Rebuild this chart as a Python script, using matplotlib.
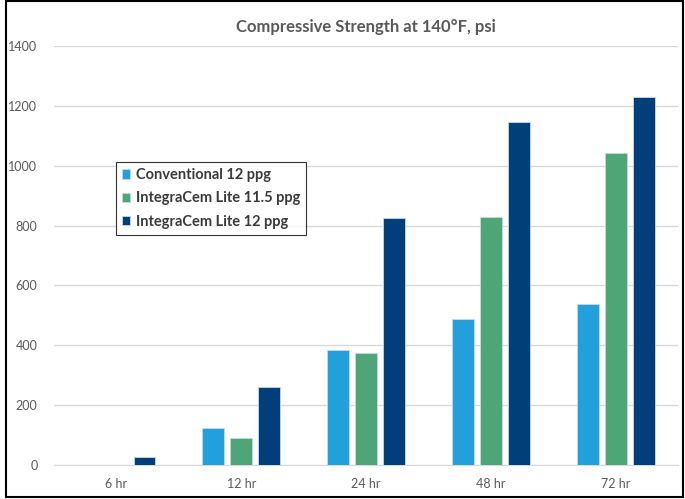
import numpy as np
import matplotlib.pyplot as plt
from matplotlib.patches import Rectangle

plt.rcParams['font.family'] = ['Lato', 'DejaVu Sans']

times = ["6 hr", "12 hr", "24 hr", "48 hr", "72 hr"]
conventional = [0, 124, 384, 488, 538]
lite_115 = [0, 90, 374, 829, 1042]
lite_12 = [27, 261, 825, 1146, 1230]

series = [
    ("Conventional 12 ppg", conventional, "#21a0db"),
    ("IntegraCem Lite 11.5 ppg", lite_115, "#4ea576"),
    ("IntegraCem Lite 12 ppg", lite_12, "#003f7a"),
]

fig = plt.figure(figsize=(6.85, 4.99), dpi=100)
ax = fig.add_axes([0.079, 0.068, 0.911, 0.84])

x = np.arange(len(times))
w = 0.175
step = 0.224
for i, (name, vals, col) in enumerate(series):
    vals = np.array(vals, dtype=float)
    # zero values are simply not drawn
    mask = vals > 0
    ax.bar(x[mask] + (i - 1) * step, vals[mask], width=w, color=col,
           edgecolor="#c8d8e8", linewidth=0.6, label=name, zorder=3)

ax.set_xlim(-0.5, len(times) - 0.5)
ax.set_ylim(0, 1400)
ax.set_yticks(range(0, 1401, 200))
ax.set_xticks(x)
ax.set_xticklabels(times)
ax.grid(axis="y", color="#d9d9d9", linewidth=1, zorder=0)
for s in ["top", "right", "left"]:
    ax.spines[s].set_visible(False)
ax.spines["bottom"].set_color("#d9d9d9")
ax.tick_params(axis="both", length=0, labelsize=9, colors="#595959")
ax.tick_params(axis="x", pad=9)
ax.tick_params(axis="y", pad=12)

ax.set_title("Compressive Strength at 140°F, psi", fontsize=12, fontweight="bold",
             color="#595959", pad=10)

leg = ax.legend(loc="upper left", bbox_to_anchor=(0.087, 0.74), frameon=True,
                fancybox=False, edgecolor="black", handlelength=0.6,
                handleheight=0.6, handletextpad=0.4, borderpad=0.4,
                labelspacing=0.65, prop={"weight": "bold", "size": 10.5})
leg.get_frame().set_linewidth(0.8)
for t in leg.get_texts():
    t.set_color("#3a3a3a")

fig.patches.append(Rectangle((0.009, 0.004), 0.988, 0.993, transform=fig.transFigure,
                             fill=False, edgecolor="black", linewidth=1.5))

fig.savefig("out.png", dpi=100)
